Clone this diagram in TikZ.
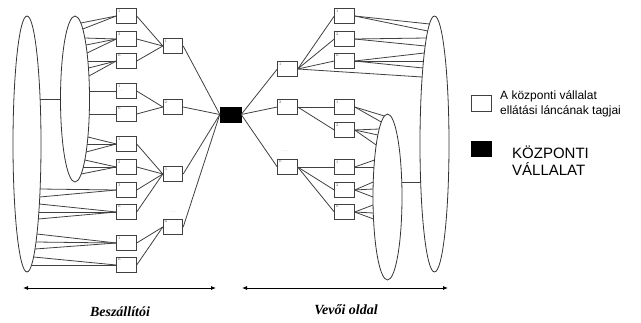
\documentclass[tikz,border=0pt]{standalone}
\usepackage{fontspec}
\newfontfamily\arialfont{Liberation Sans}
\newfontfamily\timesfont{Liberation Serif}
\usetikzlibrary{shapes.geometric,arrows.meta}
\def\rim(#1)(#2,#3)(#4:#5)(#6){\coordinate (#1) at ({#2+(#4)*sqrt(1-(((#6)-(#3))/(#5))*(((#6)-(#3))/(#5)))},#6);}
\def\fan(#1)(#2,#3)(#4:#5)#6{\foreach \y in {#6}{\rim(e)(#2,#3)(#4:#5)(\y) \draw[link] (#1) -- (e);}}

\begin{document}
\begin{tikzpicture}[x=1pt,y=-1pt,
	ell/.style={draw=black!80,line width=0.8pt,ellipse,inner sep=0pt},
	tag/.style={font=\fontsize{4}{4}\selectfont,text=black!60,inner sep=1.3pt,align=left,anchor=north west},
	member/.style={draw=black!75,fill=white,line width=0.9pt,inner sep=0pt,minimum width=19.5pt,minimum height=15pt,label={[tag]north west:{#1}}},
	hub/.style={draw=black,fill=black,inner sep=0pt,minimum width=21pt,minimum height=15pt},
	keybox/.style={draw=black!75,fill=white,line width=0.9pt,inner sep=0pt,minimum width=20pt,minimum height=16pt},
	dots/.style={font=\fontsize{4}{4}\selectfont,text=black!60,inner sep=0pt},
	link/.style={draw=black!75,line width=0.8pt},
	span/.style={line width=0.8pt,{Latex[length=5pt,width=4pt]}-{Latex[length=5pt,width=4pt]}},
	side/.style={font=\timesfont\bfseries\itshape\fontsize{14}{16}\selectfont,inner sep=0pt}]
	%%%%% START %%%%%
	\useasboundingbox (0,0) rectangle (641,322);
	
	\node[ell,minimum width=28pt,minimum height=256pt] (outL) at (27,144) {};
	\node[ell,minimum width=29pt,minimum height=166pt] (inL) at (75,99) {};
	\node[ell,minimum width=29pt,minimum height=256pt] (outR) at (434.5,144) {};
	\node[ell,minimum width=29pt,minimum height=166pt] (inR) at (387.5,197) {};
	
	\rim(j1)(27,144)(14:128)(99)
	\draw[link] (j1) -- (inL.west);
	\rim(j2)(387.5,197)(14.5:83)(182)
	\rim(j3)(434.5,144)(-14.5:128)(182)
	\draw[link] (j2) -- (j3);
	
	\node[member=1] (l1) at (126.5,16) {};
	\node[member=2] (l2) at (126.5,39) {};
	\node[member=n] (l3) at (126.5,61) {};
	\node[member={1\\...}] (l4) at (126.5,91) {};
	\node[member=n] (l5) at (126.5,114) {};
	\node[member=1] (l6) at (126.5,144) {};
	\node[member=2] (l7) at (126.5,167) {};
	\node[member=3] (l8) at (126.5,190) {};
	\node[member=n] (l9) at (126.5,212) {};
	\node[member=1] (l10) at (126.5,243) {};
	\node[member=n] (l11) at (126.5,265) {};
	
	\node[member=1] (m1) at (173,46) {};
	\node[member=2] (m2) at (173,107) {};
	\node[member=3] (m3) at (173,174) {};
	\node[member=n] (m4) at (173,227) {};
	\node[dots] (mdots) at (173,212) {....};
	
	\node[hub] (hub) at (230.5,114.5) {};
	
	\node[member=1] (r1) at (287.5,69) {};
	\node[member=2] (r2) at (287.5,107) {};
	\node[member=n] (r3) at (287.5,167) {};
	\node[dots] (rdots) at (285,151) {....};
	
	\node[member=1] (s1) at (344.5,16) {};
	\node[member=2] (s2) at (344.5,39) {};
	\node[member=n] (s3) at (344.5,61) {};
	\node[member=1] (s4) at (344.5,107) {};
	\node[member=2] (s5) at (344.5,130) {};
	\node[member=1] (s6) at (344.5,167) {};
	\node[member=2] (s7) at (344.5,190) {};
	\node[member=n] (s8) at (344.5,212) {};
	
	% suppliers side
	\fan(l1.west)(75,99)(14.5:83){23,29}
	\fan(l2.west)(75,99)(14.5:83){38,45,53}
	\fan(l3.west)(75,99)(14.5:83){61,68,76}
	\fan(l4.west)(75,99)(14.5:83){91}
	\fan(l5.west)(75,99)(14.5:83){114}
	\fan(l6.west)(75,99)(14.5:83){137,144,152}
	\fan(l7.west)(75,99)(14.5:83){160,167,174}
	\fan(l8.west)(27,144)(14:128){189,197}
	\fan(l9.west)(27,144)(14:128){204,212,219}
	\fan(l10.west)(27,144)(14:128){234,242,249}
	\fan(l11.west)(27,144)(14:128){257,265}
	\foreach \a/\b in {l1/m1,l2/m1,l3/m1,l4/m2,l5/m2,l6/m3,l7/m3,l8/m3,l9/m3,l10/m4,l11/m4}
		\draw[link] (\a.east) -- (\b.west);
	\foreach \a in {m1,m2,m3,m4}
		\draw[link] (\a.east) -- (hub.west);
	
	% customers side
	\foreach \b in {r1,r2,r3}
		\draw[link] (hub.east) -- (\b.west);
	\foreach \a/\b in {r1/s1,r1/s2,r1/s3,r2/s4,r2/s5,r3/s6,r3/s7,r3/s8}
		\draw[link] (\a.east) -- (\b.west);
	\fan(r1.east)(434.5,144)(-14.5:128){77}
	\fan(s1.east)(434.5,144)(-14.5:128){24,31}
	\fan(s2.east)(434.5,144)(-14.5:128){38,46}
	\fan(s3.east)(434.5,144)(-14.5:128){53,61,68}
	\fan(s4.east)(387.5,197)(-14.5:83){116,122}
	\fan(s5.east)(387.5,197)(-14.5:83){129,135,145}
	\fan(s6.east)(387.5,197)(-14.5:83){160,167}
	\fan(s7.east)(387.5,197)(-14.5:83){182,189,197}
	\fan(s8.east)(387.5,197)(-14.5:83){205,213,219}
	
	% legend
	\node[keybox] (key1) at (481,103) {};
	\node[anchor=west,font=\arialfont\fontsize{12}{15}\selectfont,align=left,inner sep=0pt] (keytext1) at (500,104) {A központi vállalat\\ellátási láncának tagjai};
	\node[hub,minimum width=20pt] (key2) at (481,148.5) {};
	\node[anchor=west,font=\arialfont\fontsize{15}{17}\selectfont,align=left,inner sep=0pt] (keytext2) at (512,161) {KÖZPONTI\\VÁLLALAT};
	
	% bottom
	\coordinate (a1) at (23,288);
	\coordinate (a2) at (216,288);
	\draw[span] (a1) -- (a2);
	\coordinate (b1) at (242,288);
	\coordinate (b2) at (448,288);
	\draw[span] (b1) -- (b2);
	\node[side] (supp) at (120,312) {Beszállítói};
	\node[side] (cust) at (346,310) {Vevői oldal};
	%%%%% END %%%%%
\end{tikzpicture}
\end{document}
